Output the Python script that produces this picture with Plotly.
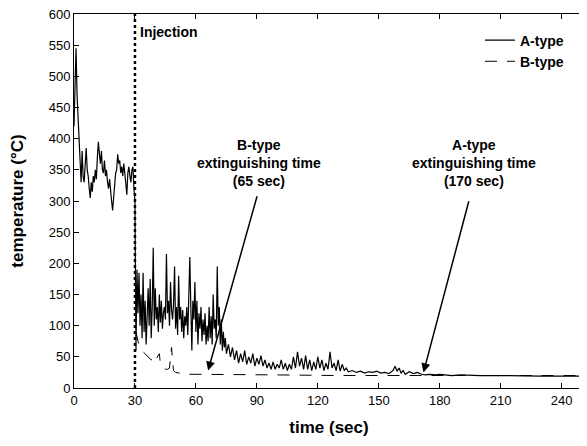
import plotly.graph_objects as go

# ---- data ----
a_time = [0, 0.5, 1, 1.5, 2, 2.5, 3, 3.5, 4, 4.5, 5, 5.5, 6, 6.5, 7, 7.5, 8, 8.5, 9, 9.5,
          10, 10.5, 11, 11.5, 12, 12.5, 13, 13.5, 14, 14.5, 15, 15.5, 16, 16.5, 17, 17.5, 18, 18.5, 19, 19.5,
          20, 20.5, 21, 21.5, 22, 22.5, 23, 23.5, 24, 24.5, 25, 25.5, 26, 26.5, 27, 27.5, 28, 28.5, 29, 29.5,
          30, 30.5, 31, 31.5, 32, 32.5, 33, 33.5, 34, 34.5, 35, 35.5, 36, 36.5, 37, 37.5, 38, 38.5, 39, 39.5,
          40, 40.5, 41, 41.5, 42, 42.5, 43, 43.5, 44, 44.5, 45, 45.5, 46, 46.5, 47, 47.5, 48, 48.5, 49, 49.5,
          50, 50.5, 51, 51.5, 52, 52.5, 53, 53.5, 54, 54.5, 55, 55.5, 56, 56.5, 57, 57.5, 58, 58.5, 59, 59.5,
          60, 60.5, 61, 61.5, 62, 62.5, 63, 63.5, 64, 64.5, 65, 65.5, 66, 66.5, 67, 67.5, 68, 68.5, 69, 69.5,
          70, 70.5, 71, 71.5, 72, 72.5, 73, 73.5, 74, 74.5, 75, 76, 77, 78, 79, 80, 81, 82, 83, 84,
          85, 86, 87, 88, 89, 90, 91, 92, 93, 94, 95, 96, 97, 98, 99, 100, 101, 102, 103, 104,
          105, 106, 107, 108, 109, 110, 111, 112, 113, 114, 115, 116, 117, 118, 119, 120, 121, 122, 123, 124,
          125, 126, 127, 128, 129, 130, 131, 132, 133, 134, 135, 137, 139, 141, 143, 145, 147, 149, 151, 153,
          155, 157, 158, 159, 160, 161, 162, 163, 165, 167, 169, 171, 173, 175, 178, 180, 183, 186, 190, 195,
          200, 210, 220, 230, 240, 250]
a_temp = [420, 500, 545, 470, 430, 390, 360, 330, 380, 340, 330, 360, 385, 350, 340, 320, 305, 330, 315, 340,
          330, 350, 335, 370, 395, 375, 360, 380, 350, 345, 365, 340, 350, 330, 320, 335, 310, 300, 285, 310,
          330, 345, 350, 375, 360, 365, 345, 355, 340, 360, 345, 330, 310, 345, 355, 340, 330, 350, 355, 320,
          300, 60, 190, 120, 185, 100, 150, 80, 185, 90, 140, 70, 120, 160, 100, 175, 80, 130, 225, 100,
          160, 110, 130, 90, 150, 105, 140, 95, 120, 130, 110, 215, 120, 140, 100, 170, 125, 110, 135, 195,
          95, 130, 85, 180, 110, 130, 90, 125, 80, 115, 100, 130, 85, 160, 210, 130, 60, 140, 110, 170,
          90, 140, 70, 120, 95, 130, 75, 110, 85, 120, 70, 100, 75, 130, 80, 115, 70, 150, 95, 110,
          80, 195, 100, 130, 70, 110, 60, 90, 65, 80, 55, 70, 50, 65, 45, 60, 40, 55, 42, 60,
          38, 50, 40, 55, 35, 48, 38, 52, 35, 45, 32, 40, 30, 42, 30, 38, 32, 45, 30, 40,
          28, 38, 30, 50, 32, 58, 35, 48, 30, 52, 30, 45, 28, 42, 30, 50, 32, 45, 28, 40,
          30, 58, 32, 40, 28, 45, 27, 38, 28, 32, 26, 28, 25, 27, 24, 26, 25, 27, 24, 25,
          23, 28, 35, 27, 32, 24, 28, 22, 26, 23, 25, 22, 21, 22, 21, 22, 21, 20, 21, 20,
          20, 20, 19, 19, 19, 19]

b_time = [30.5, 31, 31.5, 32, 33, 34, 35, 36, 37, 38, 39, 40, 41, 42, 42.5, 43, 44, 45, 46, 47,
          47.5, 48, 48.5, 49, 50, 52, 55, 60, 80, 100, 130, 160, 190, 220, 250]
b_temp = [90, 80, 75, 70, 62, 58, 55, 52, 48, 45, 48, 42, 50, 55, 40, 35, 32, 30, 30, 32,
          50, 65, 45, 28, 25, 24, 22, 22, 21, 21, 20, 20, 20, 20, 20]

x_ticks = [0, 30, 60, 90, 120, 150, 180, 210, 240]
y_ticks = [0, 50, 100, 150, 200, 250, 300, 350, 400, 450, 500, 550, 600]

injection_time = 30
b_ext_time, a_ext_time = 66, 172

FONT = "Liberation Sans, Arial, sans-serif"

fig = go.Figure()
fig.add_trace(go.Scatter(x=a_time, y=a_temp, mode="lines", name="<b>A-type</b>",
                         line=dict(color="black", width=1.2)))
fig.add_trace(go.Scatter(x=b_time, y=b_temp, mode="lines", name="<b>B-type</b>",
                         line=dict(color="black", width=1, dash="12px,10px")))

fig.add_shape(type="line", x0=injection_time, x1=injection_time, y0=0, y1=600,
              xref="x", yref="y", line=dict(color="black", width=2.5, dash="dot"))

fig.add_annotation(x=31.5, y=571, text="<b>Injection</b>", showarrow=False,
                   xanchor="left", font=dict(size=14, family=FONT, color="black"))

fig.add_annotation(x=91, y=361, text="<b>B-type<br>extinguishing time<br>(65 sec)</b>",
                   showarrow=False, font=dict(size=14, family=FONT, color="black"))
fig.add_annotation(x=197, y=361, text="<b>A-type<br>extinguishing time<br>(170 sec)</b>",
                   showarrow=False, font=dict(size=14, family=FONT, color="black"))

fig.add_annotation(x=b_ext_time, y=28, ax=90.3, ay=310, axref="x", ayref="y",
                   text="", showarrow=True, arrowhead=2, arrowsize=1.2, arrowwidth=1.5,
                   arrowcolor="black")
fig.add_annotation(x=a_ext_time, y=25, ax=194.5, ay=302, axref="x", ayref="y",
                   text="", showarrow=True, arrowhead=2, arrowsize=1.2, arrowwidth=1.5,
                   arrowcolor="black")

axis_common = dict(showline=True, linecolor="black", linewidth=1, mirror="ticks",
                   ticks="inside", ticklen=5, tickcolor="black", showgrid=False,
                   zeroline=False, ticklabeloverflow="allow",
                   tickfont=dict(size=13, family=FONT, color="black"))

fig.update_xaxes(range=[0, 251], tickvals=x_ticks,
                 title=dict(text="<b>time (sec)</b>", font=dict(size=17, family=FONT, color="black"),
                            standoff=14),
                 **axis_common)
fig.update_yaxes(range=[0, 600], tickvals=y_ticks,
                 title=dict(text="<b>temperature (°C)</b>", font=dict(size=17, family=FONT, color="black"),
                            standoff=22),
                 **axis_common)

fig.update_layout(
    width=579, height=438,
    margin=dict(l=66, r=3, t=6, b=58, autoexpand=False),
    plot_bgcolor="white", paper_bgcolor="white",
    showlegend=True,
    legend=dict(x=0.796, y=0.972, xanchor="left", yanchor="top", bgcolor="rgba(0,0,0,0)",
                font=dict(size=14, family=FONT, color="black"), tracegroupgap=0,
                itemwidth=30),
    font=dict(family=FONT, color="black"),
)

fig.write_html("out.html")
